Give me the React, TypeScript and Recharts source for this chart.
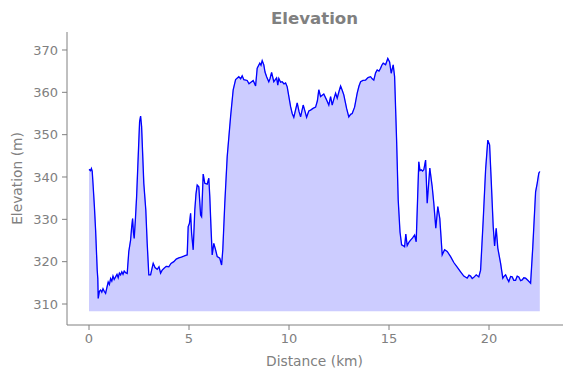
import React from "react";
import {
  ComposedChart,
  Area,
  Line,
  XAxis,
  YAxis,
} from "recharts";

// distance along the route (km)
const distance = [
  0.0, 0.08, 0.12, 0.16, 0.21, 0.27, 0.33, 0.41, 0.44, 0.46, 0.52, 0.58, 0.64, 0.7, 0.76, 0.83, 0.9, 0.96,
  1.02, 1.08, 1.14, 1.2, 1.26, 1.33, 1.4, 1.46, 1.52, 1.58, 1.64, 1.7, 1.76, 1.83, 1.91, 1.99, 2.08, 2.13,
  2.18, 2.22, 2.26, 2.32, 2.38, 2.48, 2.53, 2.58, 2.63, 2.74, 2.84, 2.91, 2.99, 3.08, 3.14, 3.21, 3.3, 3.41,
  3.5, 3.58, 3.66, 3.74, 3.86, 3.99, 4.1, 4.24, 4.36, 4.49, 4.62, 4.74, 4.84, 4.91, 4.96, 5.02, 5.08, 5.13,
  5.21, 5.29, 5.35, 5.41, 5.49, 5.58, 5.63, 5.71, 5.79, 5.91, 5.99, 6.04, 6.1, 6.16, 6.24, 6.33, 6.41, 6.54,
  6.63, 6.69, 6.79, 6.91, 7.08, 7.21, 7.33, 7.49, 7.58, 7.66, 7.74, 7.91, 8.0, 8.08, 8.21, 8.33, 8.41, 8.54,
  8.6, 8.66, 8.74, 8.8, 8.88, 8.99, 9.05, 9.13, 9.24, 9.38, 9.44, 9.49, 9.58, 9.66, 9.75, 9.83, 9.91, 10.0,
  10.08, 10.16, 10.24, 10.41, 10.5, 10.58, 10.71, 10.8, 10.88, 10.99, 11.08, 11.2, 11.33, 11.42, 11.49, 11.58,
  11.66, 11.74, 11.86, 11.99, 12.08, 12.16, 12.25, 12.33, 12.41, 12.5, 12.58, 12.66, 12.74, 12.88, 12.99,
  13.08, 13.16, 13.28, 13.41, 13.5, 13.58, 13.7, 13.83, 13.95, 14.08, 14.16, 14.24, 14.33, 14.41, 14.5,
  14.58, 14.64, 14.71, 14.83, 14.94, 15.03, 15.11, 15.21, 15.28, 15.38, 15.46, 15.55, 15.63, 15.7, 15.78,
  15.84, 15.91, 16.0, 16.08, 16.18, 16.28, 16.36, 16.49, 16.55, 16.61, 16.68, 16.74, 16.83, 16.91, 17.04,
  17.16, 17.24, 17.34, 17.44, 17.54, 17.66, 17.78, 17.91, 18.08, 18.24, 18.41, 18.58, 18.74, 18.91, 19.0,
  19.08, 19.16, 19.24, 19.36, 19.49, 19.58, 19.71, 19.83, 19.94, 20.03, 20.11, 20.21, 20.28, 20.36, 20.44,
  20.58, 20.69, 20.76, 20.83, 20.91, 20.99, 21.08, 21.16, 21.24, 21.33, 21.41, 21.49, 21.58, 21.66, 21.74,
  21.83, 21.94, 22.08, 22.19, 22.33, 22.41, 22.49, 22.54,
];

// elevation (m)
const elevation = [
  341.8, 341.5, 342.0, 341.4, 337.7, 333.0, 327.5, 318.0, 316.0, 311.3, 313.0, 313.3, 312.8, 313.6, 313.0,
  312.5, 314.0, 315.2, 314.6, 316.0, 315.4, 316.6, 315.8, 316.4, 317.0, 316.2, 317.3, 316.9, 317.6, 317.0,
  317.8, 317.4, 317.2, 322.4, 325.1, 328.0, 330.2, 327.0, 325.5, 330.0, 335.3, 347.2, 353.1, 354.4, 351.9,
  338.5, 332.2, 324.3, 316.9, 316.9, 318.2, 319.6, 318.6, 318.2, 318.8, 317.3, 318.0, 318.4, 318.9, 318.8,
  319.6, 320.0, 320.6, 320.9, 321.1, 321.3, 321.5, 321.6, 328.3, 329.0, 331.4, 326.7, 322.8, 332.2, 336.0,
  338.1, 337.7, 331.0, 330.6, 340.7, 338.5, 338.3, 339.7, 335.3, 328.0, 321.6, 324.3, 322.8, 321.2, 320.8,
  319.2, 322.8, 333.8, 344.8, 354.3, 360.6, 363.0, 363.7, 363.2, 363.9, 363.0, 362.8, 362.0, 362.3, 362.8,
  361.5, 365.7, 366.9, 366.4, 367.5, 366.5, 364.8, 363.7, 362.5, 363.2, 364.7, 362.5, 363.4, 361.7, 363.3,
  362.4, 362.5, 362.0, 362.2, 361.3, 358.8, 356.6, 355.0, 354.1, 357.5, 355.5, 354.2, 357.0, 355.5, 354.1,
  355.6, 355.8, 356.2, 356.5, 358.0, 360.6, 359.0, 359.3, 359.6, 358.4, 357.0, 359.0, 357.0, 358.5, 359.8,
  358.6, 360.2, 361.5, 360.5, 359.4, 356.2, 354.2, 354.8, 355.0, 356.5, 359.8, 361.5, 362.5, 362.8, 362.9,
  363.5, 363.7, 363.2, 362.9, 364.6, 365.3, 365.0, 365.7, 366.4, 366.9, 366.5, 368.0, 367.2, 364.5, 366.5,
  363.7, 348.7, 334.6, 327.0, 324.0, 323.8, 323.5, 326.5, 323.8, 324.6, 325.1, 325.6, 326.3, 324.7, 343.6,
  341.5, 341.7, 341.4, 341.7, 344.0, 333.8, 342.1, 337.7, 333.8, 327.9, 333.0, 330.2, 321.6, 322.8, 322.4,
  321.2, 319.8, 318.7, 317.6, 316.6, 316.1, 316.8, 316.6, 316.0, 316.3, 316.9, 316.4, 318.0, 329.8, 341.7,
  348.7, 347.6, 339.3, 328.3, 323.7, 327.9, 323.2, 319.6, 316.1, 316.6, 316.9, 316.0, 315.3, 316.5, 316.4,
  315.6, 315.6, 316.6, 316.4, 315.5, 315.7, 316.2, 316.1, 315.6, 314.9, 323.5, 336.5, 338.5, 340.9, 341.3,
];

const xTicks = [0, 5, 10, 15, 20];
const yTicks = [310, 320, 330, 340, 350, 360, 370];

// fill goes down to 3 m below the lowest point
const baseline = Math.min(...elevation) - 3;

const data = distance.map((d, i) => ({ d, elev: elevation[i] }));

const GRAY = "#808080";
const FONT = "DejaVu Sans, sans-serif";

export default function App() {
  return (
    <div style={{ position: "absolute", left: 0, top: 0, width: 571, height: 378, background: "#fff" }}>
      <ComposedChart
        width={571}
        height={378}
        data={data}
        margin={{ top: 32, right: 8, bottom: 0, left: 0 }}
      >
        <XAxis
          dataKey="d"
          type="number"
          domain={[-1.1, 23.7]}
          ticks={xTicks}
          allowDataOverflow
          height={53}
          tickSize={5}
          tickMargin={4}
          stroke={GRAY}
          tick={{ fill: GRAY, fontSize: 13, fontFamily: FONT }}
          tickLine={{ stroke: GRAY }}
          axisLine={{ stroke: GRAY }}
        />
        <YAxis
          type="number"
          domain={[305.04, 374.25]}
          ticks={yTicks}
          allowDataOverflow
          width={67}
          tickSize={5}
          tickMargin={4}
          stroke={GRAY}
          tick={{ fill: GRAY, fontSize: 13, fontFamily: FONT }}
          tickLine={{ stroke: GRAY }}
          axisLine={{ stroke: GRAY }}
        />
        <Area
          dataKey="elev"
          type="linear"
          baseValue={baseline}
          fill="#ccccff"
          fillOpacity={1}
          stroke="#b3b3ff"
          strokeWidth={1}
          dot={false}
          activeDot={false}
          isAnimationActive={false}
        />
        <Line
          dataKey="elev"
          type="linear"
          stroke="#0000ff"
          strokeWidth={1.3}
          dot={false}
          activeDot={false}
          isAnimationActive={false}
        />
      </ComposedChart>
      <svg
        width={571}
        height={378}
        style={{ position: "absolute", left: 0, top: 0, pointerEvents: "none" }}
      >
        <text x={314.5} y={24} textAnchor="middle" fill={GRAY} fontFamily={FONT} fontSize={16.6} fontWeight="bold">
          Elevation
        </text>
        <text x={314.5} y={366} textAnchor="middle" fill={GRAY} fontFamily={FONT} fontSize={13.8}>
          Distance (km)
        </text>
        <text
          x={0}
          y={0}
          transform="translate(22,178.5) rotate(-90)"
          textAnchor="middle"
          fill={GRAY}
          fontFamily={FONT}
          fontSize={13.8}
        >
          Elevation (m)
        </text>
      </svg>
    </div>
  );
}
